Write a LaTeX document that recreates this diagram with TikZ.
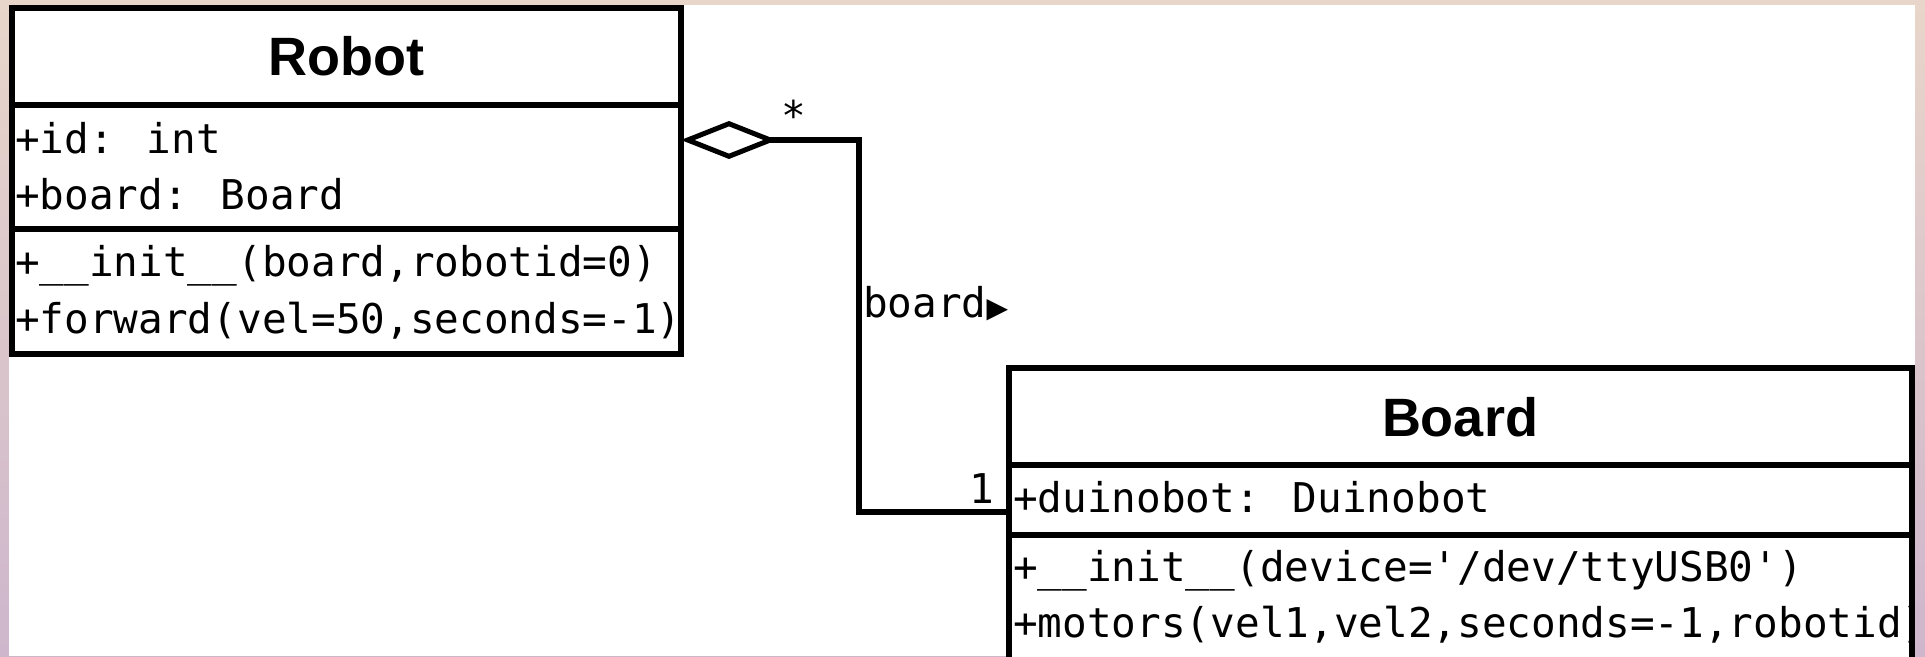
\documentclass[tikz,border=0pt]{standalone}
\usepackage{fontspec}
\usetikzlibrary{arrows.meta}
\newfontfamily\monof{DejaVu Sans Mono}
\newfontfamily\titlef{Liberation Sans}
\newfontfamily\symf{DejaVu Sans}
\definecolor{bgtop}{HTML}{E8D6CA}
\definecolor{bgbot}{HTML}{CEB6CC}
\tikzset{
  classbox/.style={draw=black, line width=6pt, fill=white, rectangle, inner sep=0pt, outer sep=0pt, anchor=north west},
  sepline/.style={draw=black, line width=6pt},
  titletext/.style={inner sep=0pt, anchor=base, font=\titlef\bfseries\fontsize{54}{60}\selectfont},
  membertext/.style={inner sep=0pt, anchor=base west, font=\monof\fontsize{41}{50}\selectfont},
  labeltext/.style={inner sep=0pt, font=\monof\fontsize{41}{50}\selectfont},
  aggline/.style={draw=black, line width=5.5pt, line join=miter,
    -{Diamond[open, length=96pt, width=38pt, line width=5pt]}}
}
\begin{document}
\begin{tikzpicture}[x=1pt,y=-1pt]
\useasboundingbox (0,0) rectangle (1925,656);
\clip (0,0) rectangle (1925,656);
\shade[top color=bgtop, bottom color=bgbot] (0,0) rectangle (1925,656);
\fill[white] (9,5) rectangle (1915,656);

% Robot class
\node[classbox, minimum width=669pt, minimum height=346pt] (robot) at (12,8) {};
\draw[sepline] (robot.west |- 0,105) -- (robot.east |- 0,105);
\draw[sepline] (robot.west |- 0,229) -- (robot.east |- 0,229);
\node[titletext] (robottitle) at (346,75) {Robot};
\node[membertext] (rid) at (15,153) {+id: int};
\node[membertext] (rboard) at (15,209) {+board: Board};
\node[membertext] (rinit) at (15,276) {+\_\_init\_\_(board,robotid=0)};
\node[membertext] (rfwd) at (15,333) {+forward(vel=50,seconds=-1)};

% Board class
\node[classbox, minimum width=903pt, minimum height=400pt] (board) at (1009,368) {};
\node[titletext] (boardtitle) at (1460,436) {Board};
\node[membertext] (bduino) at (1013,512) {+duinobot: Duinobot};
\node[membertext] (binit) at (1013,581) {+\_\_init\_\_(device='/dev/ttyUSB0')};
\begin{scope}
\clip (board.north west) rectangle ([xshift=-3pt]board.south east);
\node[membertext] (bmotors) at (1013,637) {+motors(vel1,vel2,seconds=-1,robotid)};
\end{scope}
\draw[sepline] (board.west |- 0,465) -- (board.east |- 0,465);
\draw[sepline] (board.west |- 0,535) -- (board.east |- 0,535);
\draw[sepline] (board.north east) -- (board.south east);

% aggregation connector
\coordinate (bconn) at (board.west |- 0,512);
\coordinate (rconn) at (robot.east |- 0,140);
\draw[aggline] (bconn) -- ++(-150,0) |- (rconn);

% labels
\node[labeltext, anchor=base] (multstar) at (794,130) {*};
\node[labeltext, anchor=base west] (rolelabel) at (863,317) {board{\symf\fontsize{28}{34}\selectfont ▶}};
\node[labeltext, anchor=base east] (multone) at (994,503) {1};
\end{tikzpicture}
\end{document}
